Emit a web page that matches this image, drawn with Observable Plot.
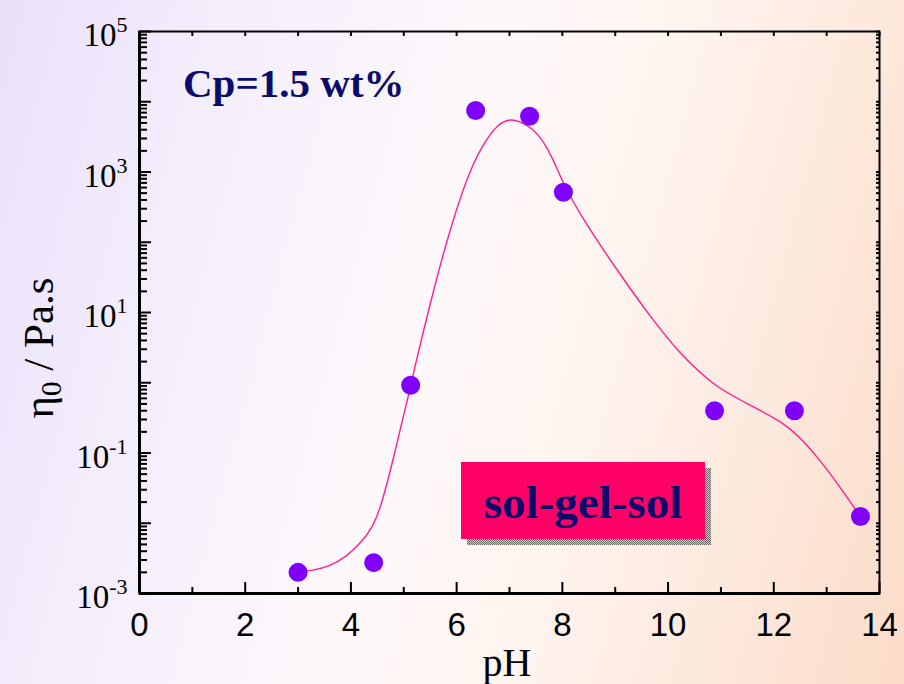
<!DOCTYPE html>
<html><head><meta charset="utf-8">
<script src="https://cdn.jsdelivr.net/npm/d3@7"></script>
<script src="https://cdn.jsdelivr.net/npm/@observablehq/plot@0.6"></script>
<style>
html,body{margin:0;padding:0;}
body{width:904px;height:684px;overflow:hidden;position:relative;
background:linear-gradient(105deg,#e9e1fa 0%,#f4eefc 22%,#fdf8fb 45%,#fff5f0 62%,#fde8dc 82%,#fbdcc8 100%);}
#chart{position:absolute;left:0;top:0;}
</style></head><body><div id="chart"></div>
<script>
// measured points
const pH = [3.0, 4.43, 5.13, 6.36, 7.38, 8.02, 10.88, 12.39, 13.64];
const eta0 = [0.0020, 0.00275, 0.92, 7500, 6200, 515, 0.40, 0.40, 0.0125];
// fitted curve
const fitPH = [3.0, 3.3, 3.6, 3.9, 4.18, 4.41, 4.56, 4.75, 4.94, 5.09, 5.18, 5.51, 5.88, 6.26, 6.58, 6.78, 6.98, 7.2, 7.45, 7.65, 7.83, 8.00, 8.40, 9.04, 9.67, 10.29, 10.61, 10.93, 11.56, 12.18, 12.50, 12.88, 13.26, 13.64];
const fitEta = [0.0020, 0.00215, 0.00245, 0.0033, 0.00515, 0.0087, 0.0167, 0.0564, 0.231, 0.659, 1.36, 14.8, 162, 1160, 3100, 4700, 5700, 5300, 4100, 2700, 1500, 720, 204, 39.6, 8.49, 2.29, 1.40, 0.855, 0.474, 0.272, 0.166, 0.0782, 0.0323, 0.0125];
// ticks
const xMajor = [0, 2, 4, 6, 8, 10, 12, 14];
const xMinor = [1, 3, 5, 7, 9, 11, 13];
const xAll = [0, 1, 2, 3, 4, 5, 6, 7, 8, 9, 10, 11, 12, 13, 14];
const yExponents = [-3, -2, -1, 0, 1, 2, 3, 4, 5];
const yLabelExponents = [-3, -1, 1, 3, 5];
const minorMultipliers = [2, 3, 4, 5, 6, 7, 8, 9];
// texts
const xTitle = "pH";
const concLabel = "Cp=1.5 wt%";
const boxLabel = "sol-gel-sol";

const points = pH.map((x, i) => ({x, y: eta0[i]}));
const fit = fitPH.map((x, i) => ({x, y: fitEta[i]}));
const yDecades = yExponents.map(e => Math.pow(10, e));
const yMinor = yExponents.slice(0, -1).flatMap(e => minorMultipliers.map(m => m * Math.pow(10, e)));
const yAll = yDecades.concat(yMinor);
const yLabelTicks = yLabelExponents.map(e => Math.pow(10, e));
const blank = () => "";

const chart = Plot.plot({
  width: 904, height: 684,
  marginLeft: 139, marginRight: 25, marginTop: 31, marginBottom: 91,
  style: {background: "transparent", overflow: "visible"},
  x: {domain: [0, 14], axis: null},
  y: {type: "log", domain: [1e-3, 1e5], axis: null},
  marks: [
    Plot.axisX({ticks: xMajor, tickSize: -11, strokeWidth: 2, tickFormat: blank, label: null}),
    Plot.axisX({ticks: xMinor, tickSize: -6, strokeWidth: 2, tickFormat: blank, label: null}),
    Plot.axisX({anchor: "top", ticks: xAll, tickSize: -4, strokeWidth: 2, tickFormat: blank, label: null}),
    Plot.axisX({ticks: xMajor, tickSize: 0, tickPadding: 19, fontSize: 33, fontFamily: "Liberation Sans, Arial, sans-serif", fill: "black", tickFormat: d => String(d), label: null}),
    Plot.axisY({ticks: yDecades, tickSize: -12, strokeWidth: 2, tickFormat: blank, label: null}),
    Plot.axisY({ticks: yMinor, tickSize: -8, strokeWidth: 2, tickFormat: blank, label: null}),
    Plot.axisY({anchor: "right", ticks: yAll, tickSize: -4, strokeWidth: 2, tickFormat: blank, label: null}),
    Plot.axisY({ticks: yLabelTicks, tickSize: 0, tickPadding: 12, fontSize: 33, fontFamily: "Liberation Serif, Times New Roman, serif", fill: "black", dy: 4,
      tickFormat: d => "10^" + Math.round(Math.log10(d)), label: null}),
    Plot.frame({stroke: "black", strokeWidth: 2}),
    Plot.ruleX([0], {stroke: "black", strokeWidth: 3}),
    Plot.ruleY([1e-3], {stroke: "black", strokeWidth: 3}),
    Plot.line(fit, {x: "x", y: "y", curve: "basis", stroke: "#ff1f8f", strokeWidth: 1.4}),
    Plot.dot(points, {x: "x", y: "y", r: 9.5, fill: "#8000ff", stroke: "none"})
  ]
});
document.getElementById("chart").appendChild(chart);

const svg = d3.select(chart);
// superscript exponents
svg.selectAll("text").each(function() {
  const t = d3.select(this);
  const s = t.text();
  if (s.indexOf("^") < 0) return;
  const [base, exp] = s.split("^");
  t.text("");
  t.append("tspan").text(base);
  t.append("tspan").attr("dy", -14).attr("font-size", 22).text(exp);
});

const serif = "Liberation Serif, Times New Roman, serif";
const navy = "#0b0b6b";

// concentration label
svg.append("text").attr("x", 183).attr("y", 97).attr("text-anchor", "start")
  .attr("font-family", serif).attr("font-weight", "bold").attr("font-size", 41)
  .attr("fill", navy).text(concLabel);

// sol-gel-sol box
const defs = svg.append("defs");
const pat = defs.append("pattern").attr("id", "dither").attr("width", 2).attr("height", 2).attr("patternUnits", "userSpaceOnUse");
pat.append("rect").attr("width", 2).attr("height", 2).attr("fill", "#cfcac6");
pat.append("rect").attr("width", 1).attr("height", 1).attr("fill", "#6a6662");
pat.append("rect").attr("x", 1).attr("y", 1).attr("width", 1).attr("height", 1).attr("fill", "#6a6662");
svg.append("rect").attr("x", 467).attr("y", 468).attr("width", 244).attr("height", 77).attr("fill", "url(#dither)");
svg.append("rect").attr("x", 461).attr("y", 462).attr("width", 244).attr("height", 77).attr("fill", "#ff0066");
svg.append("text").attr("x", 583).attr("y", 518).attr("text-anchor", "middle")
  .attr("font-family", serif).attr("font-weight", "bold").attr("font-size", 47)
  .attr("fill", navy).text(boxLabel);

// axis titles
svg.append("text").attr("x", 507).attr("y", 676).attr("text-anchor", "middle")
  .attr("font-family", serif).attr("font-size", 40).attr("fill", "black").text(xTitle);
const yt = svg.append("text").attr("transform", "translate(53,348) rotate(-90)").attr("text-anchor", "middle")
  .attr("font-family", serif).attr("font-size", 43).attr("fill", "black");
yt.append("tspan").text("η");
yt.append("tspan").attr("font-size", 29).attr("dy", 8).text("0");
yt.append("tspan").attr("dy", -8).text(" / Pa.s");
</script></body></html>
